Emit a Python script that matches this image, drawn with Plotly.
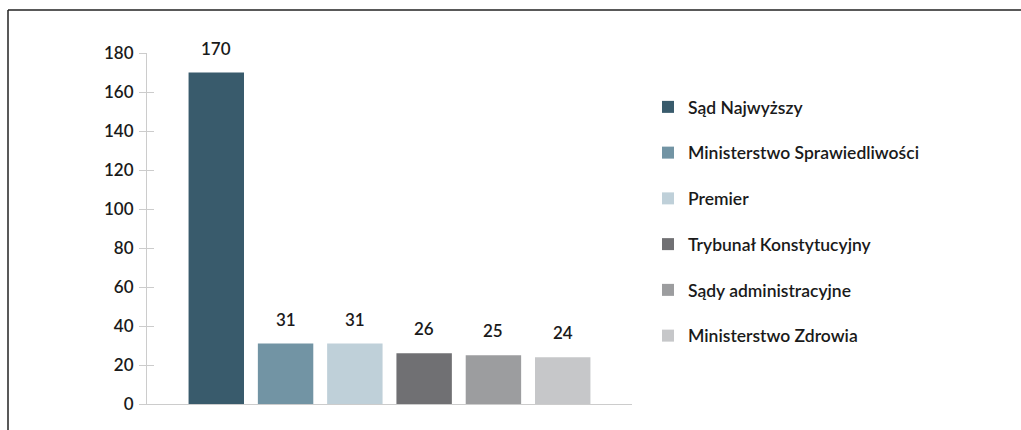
import plotly.graph_objects as go

categories = ["Sąd Najwyższy", "Ministerstwo Sprawiedliwości", "Premier",
              "Trybunał Konstytucyjny", "Sądy administracyjne", "Ministerstwo Zdrowia"]
values = [170, 31, 31, 26, 25, 24]
colors = ["#395b6c", "#7294a4", "#bfd0d9", "#707073", "#9c9d9f", "#c6c7c9"]
y_ticks = [0, 20, 40, 60, 80, 100, 120, 140, 160, 180]

W, H = 1021, 430
L, R, T, B = 147, 389, 53, 26
pw, ph = W - L - R, H - T - B

FONT = "Lato"
TXT = "#1a1a1a"

fig = go.Figure()
for i, (c, v, col) in enumerate(zip(categories, values, colors)):
    fig.add_trace(go.Bar(x=[c], y=[v], name=c, marker=dict(color=col, line=dict(width=0)),
                         width=0.8, legendgroup=str(i), hoverinfo="x+y"))
    fig.add_annotation(x=c, y=v, text=str(v), showarrow=False, yanchor="bottom",
                       yshift=12, font=dict(family=FONT, size=17, color=TXT, weight=600))

# invisible trace for second y axis (inside ticks so tick marks cross the axis line)
fig.add_trace(go.Scatter(x=[categories[0]], y=[0], yaxis="y2", mode="markers",
                         marker=dict(opacity=0), showlegend=False, hoverinfo="skip"))

axis_col = "#cccccc"
fig.update_layout(
    width=W, height=H,
    margin=dict(l=L, r=R, t=T, b=B, pad=0),
    paper_bgcolor="white", plot_bgcolor="white",
    barmode="overlay",
    font=dict(family=FONT, size=17, color=TXT),
    xaxis=dict(type="category", categoryorder="array", categoryarray=categories,
               range=[-1, len(categories)], showticklabels=False, ticks="",
               showline=True, linecolor=axis_col, linewidth=1, showgrid=False,
               zeroline=False, fixedrange=True),
    yaxis=dict(range=[0, 180], tickvals=y_ticks, ticks="outside", ticklen=7,
               tickcolor=axis_col, tickwidth=1, showline=True, linecolor=axis_col,
               linewidth=1, showgrid=False, zeroline=False, ticklabelstandoff=2,
               tickfont=dict(family=FONT, size=17, color=TXT, weight=600)),
    yaxis2=dict(range=[0, 180], tickvals=y_ticks, ticks="inside", ticklen=7,
                tickcolor=axis_col, tickwidth=1, overlaying="y", side="left",
                showticklabels=False, showgrid=False, zeroline=False, showline=False),
    legend=dict(x=(648 - L) / pw, xanchor="left", y=(H - B - 89) / ph, yanchor="top",
                font=dict(family=FONT, size=17.5, color=TXT, weight=600),
                tracegroupgap=20, bgcolor="rgba(0,0,0,0)", itemclick=False),
    showlegend=True,
)

# frame lines (top and left)
fig.add_shape(type="line", xref="paper", yref="paper",
              x0=(8 - L) / pw, x1=(W + 5 - L) / pw, y0=(H - B - 10) / ph, y1=(H - B - 10) / ph,
              line=dict(color="#222222", width=1.5))
fig.add_shape(type="line", xref="paper", yref="paper",
              x0=(8 - L) / pw, x1=(8 - L) / pw, y0=(H - B - 10) / ph, y1=(-B - 5) / ph,
              line=dict(color="#222222", width=1.5))

fig.write_html("out.html", config={"displayModeBar": False},
               post_script="document.body.style.margin='0';document.body.style.overflow='hidden';")
